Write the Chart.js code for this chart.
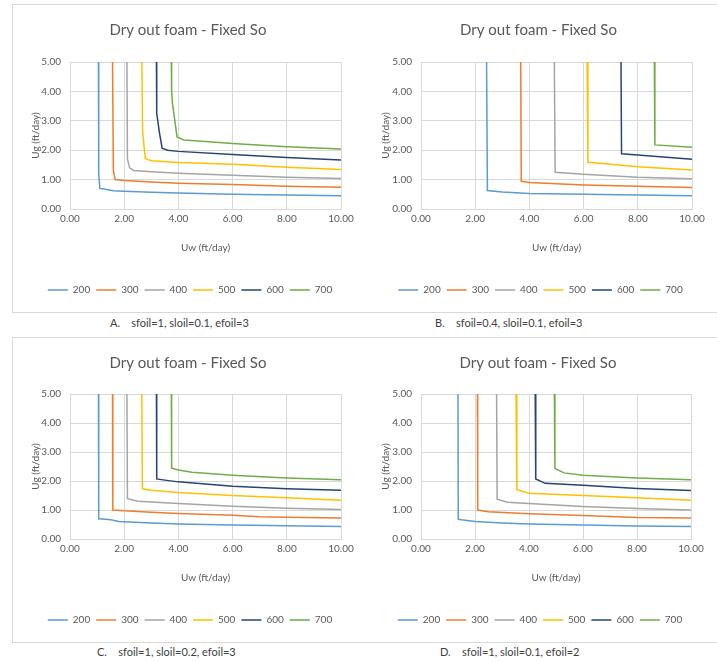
<!DOCTYPE html>
<html>
<head>
<meta charset="utf-8">
<script src="https://cdn.jsdelivr.net/npm/chart.js@4/dist/chart.umd.min.js"></script>
<style>
body{margin:0;background:#fff;width:717px;height:662px;overflow:hidden;position:relative;font-family:Lato,sans-serif}
.box{position:absolute;border:1px solid #d9d9d9;box-sizing:border-box;background:#fff}
.box canvas{display:block}
.cap{position:absolute;font-size:11px;color:#404040;white-space:pre;line-height:14px}
</style>
</head>
<body>

<div class="box" style="left:12px;top:4px;width:352px;height:309px"><canvas id="chartA" width="350" height="307"></canvas></div>
<div class="box" style="left:363px;top:4px;width:360px;height:309px;border-left:none"><canvas id="chartB" width="354" height="307"></canvas></div>
<div class="box" style="left:12px;top:337px;width:352px;height:306px"><canvas id="chartC" width="350" height="304"></canvas></div>
<div class="box" style="left:363px;top:337px;width:360px;height:306px;border-left:none"><canvas id="chartD" width="354" height="304"></canvas></div>

<div class="cap" style="left:110px;top:316px">A.    sfoil=1, sloil=0.1, efoil=3</div>
<div class="cap" style="left:435px;top:316px">B.    sfoil=0.4, sloil=0.1, efoil=3</div>
<div class="cap" style="left:97px;top:645px">C.    sfoil=1, sloil=0.2, efoil=3</div>
<div class="cap" style="left:440px;top:645px">D.    sfoil=1, sloil=0.1, efoil=2</div>

<script>
// series names (legend)
let seriesNames=['200','300','400','500','600','700']
let xTicks=[0,2,4,6,8,10]
let yTicks=[0,1,2,3,4,5]

// ===== A: sfoil=1, sloil=0.1, efoil=3 ===== [Uw, Ug]
let a200=[[1.05,5],[1.06,1.2],[1.1,0.7],[1.3,0.67],[1.6,0.62],[2,0.6],[3,0.57],[4,0.54],[6,0.5],[8,0.48],[10,0.45]]
let a300=[[1.57,5],[1.6,1.3],[1.67,1.0],[2,0.97],[3,0.92],[4,0.88],[6,0.83],[8,0.77],[10,0.74]]
let a400=[[2.1,5],[2.12,1.7],[2.2,1.4],[2.35,1.31],[3,1.27],[4,1.22],[6,1.15],[8,1.08],[10,1.04]]
let a500=[[2.65,5],[2.68,2.6],[2.78,1.72],[3,1.64],[4,1.58],[6,1.52],[8,1.42],[10,1.34]]
let a600=[[3.19,5],[3.2,3.25],[3.3,2.6],[3.4,2.07],[3.6,2.0],[4,1.96],[6,1.85],[8,1.75],[10,1.67]]
let a700=[[3.74,5],[3.75,4.0],[3.78,3.6],[3.95,2.45],[4.2,2.35],[5,2.3],[6,2.23],[8,2.12],[10,2.04]]

// ===== B: sfoil=0.4, sloil=0.1, efoil=3 =====
let b200=[[2.42,5],[2.45,0.63],[3,0.58],[4,0.53],[6,0.5],[8,0.48],[10,0.45]]
let b300=[[3.68,5],[3.7,0.94],[4,0.9],[6,0.82],[8,0.77],[10,0.73]]
let b400=[[4.92,5],[4.95,1.25],[6,1.18],[8,1.08],[10,1.03]]
let b500=[[6.13,5],[6.16,1.59],[7,1.52],[8,1.44],[10,1.33]]
let b600=[[7.38,5],[7.4,1.88],[8,1.84],[10,1.69]]
let b700=[[8.61,5],[8.63,2.18],[10,2.1]]

// ===== C: sfoil=1, sloil=0.2, efoil=3 =====
let c200=[[1.05,5],[1.06,0.7],[1.3,0.68],[1.5,0.66],[1.8,0.6],[3,0.55],[4,0.52],[6,0.48],[8,0.46],[10,0.43]]
let c300=[[1.57,5],[1.58,1.0],[2,0.97],[3,0.92],[4,0.88],[6,0.82],[7,0.77],[8,0.75],[10,0.72]]
let c400=[[2.1,5],[2.12,1.39],[2.5,1.3],[4,1.22],[6,1.13],[8,1.06],[10,1.02]]
let c500=[[2.65,5],[2.67,1.73],[3,1.68],[4,1.6],[6,1.5],[8,1.42],[10,1.34]]
let c600=[[3.19,5],[3.2,2.07],[3.5,2.03],[4,1.97],[6,1.82],[8,1.73],[10,1.68]]
let c700=[[3.74,5],[3.75,2.44],[4,2.38],[4.5,2.3],[6,2.2],[8,2.1],[10,2.04]]

// ===== D: sfoil=1, sloil=0.1, efoil=2 =====
let d200=[[1.37,5],[1.38,0.68],[1.5,0.66],[2,0.6],[3,0.55],[4,0.52],[6,0.48],[8,0.45],[10,0.43]]
let d300=[[2.09,5],[2.1,1.0],[2.5,0.94],[4,0.87],[6,0.81],[8,0.74],[10,0.72]]
let d400=[[2.8,5],[2.82,1.37],[3.2,1.27],[4,1.22],[6,1.12],[8,1.05],[10,1.0]]
let d500=[[3.52,5],[3.55,1.7],[4,1.58],[6,1.5],[8,1.42],[10,1.34]]
let d600=[[4.23,5],[4.25,2.07],[4.6,1.92],[6,1.85],[8,1.74],[10,1.67]]
let d700=[[4.94,5],[4.96,2.43],[5.3,2.28],[6,2.2],[8,2.1],[10,2.04]]

let colors=['#5B9BD5','#ED7D31','#A5A5A5','#FFC000','#264478','#70AD47']

Chart.defaults.font.family='Lato'
Chart.defaults.color='#595959'

// title + legend sit centred on the plot, not on the whole canvas
let centerOnPlot={
    id:'centerOnPlot',
    afterLayout(chart){
        let dx=13
        chart.legend.left+=dx; chart.legend.right+=dx
        chart.titleBlock.left+=11; chart.titleBlock.right+=11
    }
}

function drawPanel(id, series, yWidth, rightPad, titleGap){
    let ctx=document.getElementById(id).getContext("2d")
    let datasets=series.map((pts,i)=>({
        label:seriesNames[i],
        data:pts.map(p=>({x:p[0],y:p[1]})),
        borderColor:colors[i],
        backgroundColor:colors[i],
        borderWidth:1.5,
        pointRadius:0,
        tension:0,
        fill:false
    }))
    return new Chart(ctx,{
        type:'line',
        data:{datasets:datasets},
        plugins:[centerOnPlot],
        options:{
            responsive:false,
            animation:false,
            layout:{padding:{left:0,right:rightPad,top:0,bottom:7}},
            plugins:{
                title:{display:true,text:'Dry out foam - Fixed So',color:'#595959',
                    font:{size:15,weight:'normal'},padding:{top:16,bottom:titleGap}},
                legend:{position:'bottom',
                    labels:{boxWidth:20,boxHeight:0,padding:6,color:'#595959',font:{size:10}}},
                tooltip:{enabled:false}
            },
            scales:{
                x:{type:'linear',min:0,max:10,
                    afterBuildTicks:s=>{s.ticks=xTicks.map(v=>({value:v}))},
                    ticks:{callback:v=>v.toFixed(2),font:{size:10},color:'#595959',padding:4,maxRotation:0},
                    grid:{color:'#d9d9d9',drawTicks:false},
                    border:{color:'#d9d9d9'},
                    title:{display:true,text:'Uw (ft/day)',color:'#595959',font:{size:10},padding:{top:0,bottom:25}},
                    afterFit:s=>{s.height=70}
                },
                y:{type:'linear',min:0,max:5,
                    afterBuildTicks:s=>{s.ticks=yTicks.map(v=>({value:v}))},
                    ticks:{callback:v=>v.toFixed(2),font:{size:10},color:'#595959',padding:9},
                    grid:{color:'#d9d9d9',drawTicks:false},
                    border:{color:'#d9d9d9'},
                    title:{display:true,text:'Ug (ft/day)',color:'#595959',font:{size:10},padding:{top:17,bottom:0}},
                    afterFit:s=>{s.width=yWidth}
                }
            }
        }
    })
}

drawPanel("chartA",[a200,a300,a400,a500,a600,a700],57,22,23)
drawPanel("chartB",[b200,b300,b400,b500,b600,b700],58,25,23)
drawPanel("chartC",[c200,c300,c400,c500,c600,c700],57,22,22)
drawPanel("chartD",[d200,d300,d400,d500,d600,d700],58,26,22)
</script>
</body>
</html>
